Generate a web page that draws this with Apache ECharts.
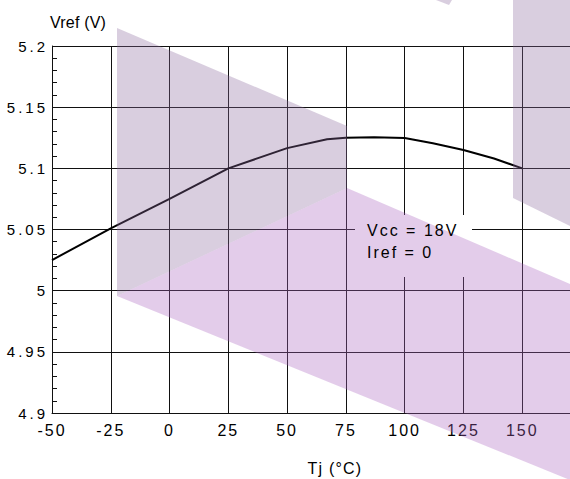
<!DOCTYPE html>
<html><head><meta charset="utf-8">
<script src="https://cdn.jsdelivr.net/npm/echarts@6/dist/echarts.min.js"></script>
<style>
html,body{margin:0;padding:0;background:#fff;}
#c{width:570px;height:479px;}
#c svg text[text-anchor="end"]{letter-spacing:3px;}
#c svg text[text-anchor="middle"]{letter-spacing:2px;}
#c svg text[text-anchor="start"]{letter-spacing:2px;}
</style></head><body><div id="c"></div>
<script>
// ---- data ----
const tempC = [-50, -25, 0, 25, 50, 67, 75, 87, 100, 112, 125, 138, 150];
const vrefV = [5.025, 5.051, 5.075, 5.1, 5.1165, 5.1238, 5.125, 5.1255, 5.1248, 5.1205, 5.115, 5.108, 5.1];
const xTickLabels = ['-50', '-25', '0', '25', '50', '75', '100', '125', '150'];
const yTickLabels = ['4.9', '4.95', '5', '5.05', '5.1', '5.15', '5.2'];
const yAxisTitle = 'Vref (V)';
const xAxisTitle = 'Tj (°C)';
const noteLines = ['Vcc = 18V', 'Iref = 0'];

const FONT = 'Liberation Sans';
const chart = echarts.init(document.getElementById('c'), null, {renderer: 'svg', width: 570, height: 479});

const lineData = tempC.map((t, i) => [t, vrefV[i]]);
const wm1 = 'rgba(139,106,158,0.33)';
const wm2 = 'rgba(170,100,190,0.33)';

chart.setOption({
  animation: false,
  backgroundColor: '#fff',
  grid: {left: 52, right: -11, top: 46, bottom: 66, containLabel: false, outerBoundsMode: 'none'},
  xAxis: {
    type: 'value', min: -50, max: 175, interval: 25,
    axisLine: {show: true, onZero: false, lineStyle: {color: '#111', width: 1}},
    axisTick: {show: false},
    splitLine: {show: true, lineStyle: {color: '#111', width: 1}},
    axisLabel: {
      color: '#000', fontFamily: FONT, fontSize: 16, margin: 9,
      formatter: v => { const s = String(v); return xTickLabels.includes(s) ? s : ''; }
    }
  },
  yAxis: {
    type: 'value', min: 4.9, max: 5.2, interval: 0.05,
    axisLine: {show: true, onZero: false, lineStyle: {color: '#111', width: 1}},
    axisTick: {show: true, inside: true, length: 5, lineStyle: {color: '#111'}},
    minorTick: {show: true, splitNumber: 5, length: 5, lineStyle: {color: '#111'}},
    splitLine: {show: true, lineStyle: {color: '#111', width: 1}},
    axisLabel: {
      color: '#000', fontFamily: FONT, fontSize: 15, margin: 4,
      formatter: v => { const s = String(+v.toFixed(2)); return yTickLabels.includes(s) ? s : ''; }
    }
  },
  series: [{
    type: 'line', data: lineData, symbol: 'none', smooth: false,
    lineStyle: {color: '#000', width: 2}, z: 5
  }],
  graphic: [
    {type: 'rect', z: 50, shape: {x: 355, y: 215, width: 117, height: 62}, style: {fill: '#fff'}},
    {type: 'polygon', z: 60, shape: {points: [[117, 28], [347, 126], [347, 188], [117, 296]]}, style: {fill: wm1}},
    {type: 'polygon', z: 60, shape: {points: [[117, 296], [347, 188], [570, 284], [570, 480]]}, style: {fill: wm2}},
    {type: 'polygon', z: 60, shape: {points: [[513, 0], [570, 0], [570, 226], [513, 198]]}, style: {fill: wm1}},
    {type: 'polygon', z: 60, shape: {points: [[436, 0], [452, 0], [449, 5]]}, style: {fill: wm1}},
    {type: 'text', z: 70, x: 50, y: 22, style: {text: yAxisTitle, fill: '#000', font: '16px "Liberation Sans"', textVerticalAlign: 'middle'}},
    {type: 'text', z: 70, x: 335, y: 468, style: {text: xAxisTitle, fill: '#000', font: '16px "Liberation Sans"', textAlign: 'center', textVerticalAlign: 'middle'}},
    {type: 'text', z: 70, x: 367, y: 230.5, style: {text: noteLines[0], fill: '#000', font: '16px "Liberation Sans"', textVerticalAlign: 'middle'}},
    {type: 'text', z: 70, x: 367, y: 252.5, style: {text: noteLines[1], fill: '#000', font: '16px "Liberation Sans"', textVerticalAlign: 'middle'}}
  ]
});

const spacing = {};
spacing[yAxisTitle] = '0.2px';
spacing[xAxisTitle] = '1.2px';
function applySpacing() {
  document.querySelectorAll('#c svg text').forEach(t => {
    const s = spacing[t.textContent];
    if (s) t.style.letterSpacing = s;
  });
}
chart.on('finished', applySpacing);
applySpacing();
</script></body></html>
